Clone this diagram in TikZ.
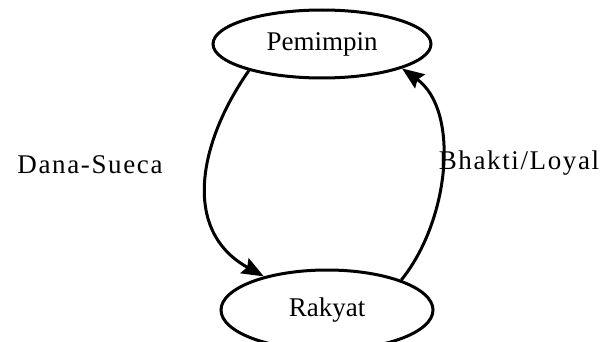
\documentclass[tikz,border=0pt]{standalone}
\usepackage{fontspec}
\setmainfont{Liberation Serif}
\usetikzlibrary{arrows.meta,shapes.geometric}

\begin{document}
\begin{tikzpicture}[x=1pt,y=-1pt,
	place/.style={ellipse,draw,line width=3pt,minimum width=218pt,minimum height=68pt,inner sep=0pt,
		font=\fontsize{27}{32}\selectfont},
	flow/.style={line width=3pt,-{Stealth[length=22pt,width=17pt,inset=3pt]}},
	lbl/.style={font=\fontsize{27}{32}\selectfont\addfontfeature{LetterSpace=6}}]
	\useasboundingbox (0,0) rectangle (602,342);
	\node[place] (pem) at (322,44) {Pemimpin};
	\node[place,minimum height=80pt,minimum width=212pt] (rak) at (327,310) {Rakyat};
	% both ways between the two
	\draw[flow] (pem.-160) .. controls (200,140) and (180,230) .. (rak.152);
	\draw[flow] (rak.22) .. controls (450,220) and (460,110) .. (pem.-17);
	\node[lbl] (dana) at (90,165) {Dana-Sueca};
	\node[lbl] (bhakti) at (519,163) {Bhakti/Loyal};
\end{tikzpicture}
\end{document}
